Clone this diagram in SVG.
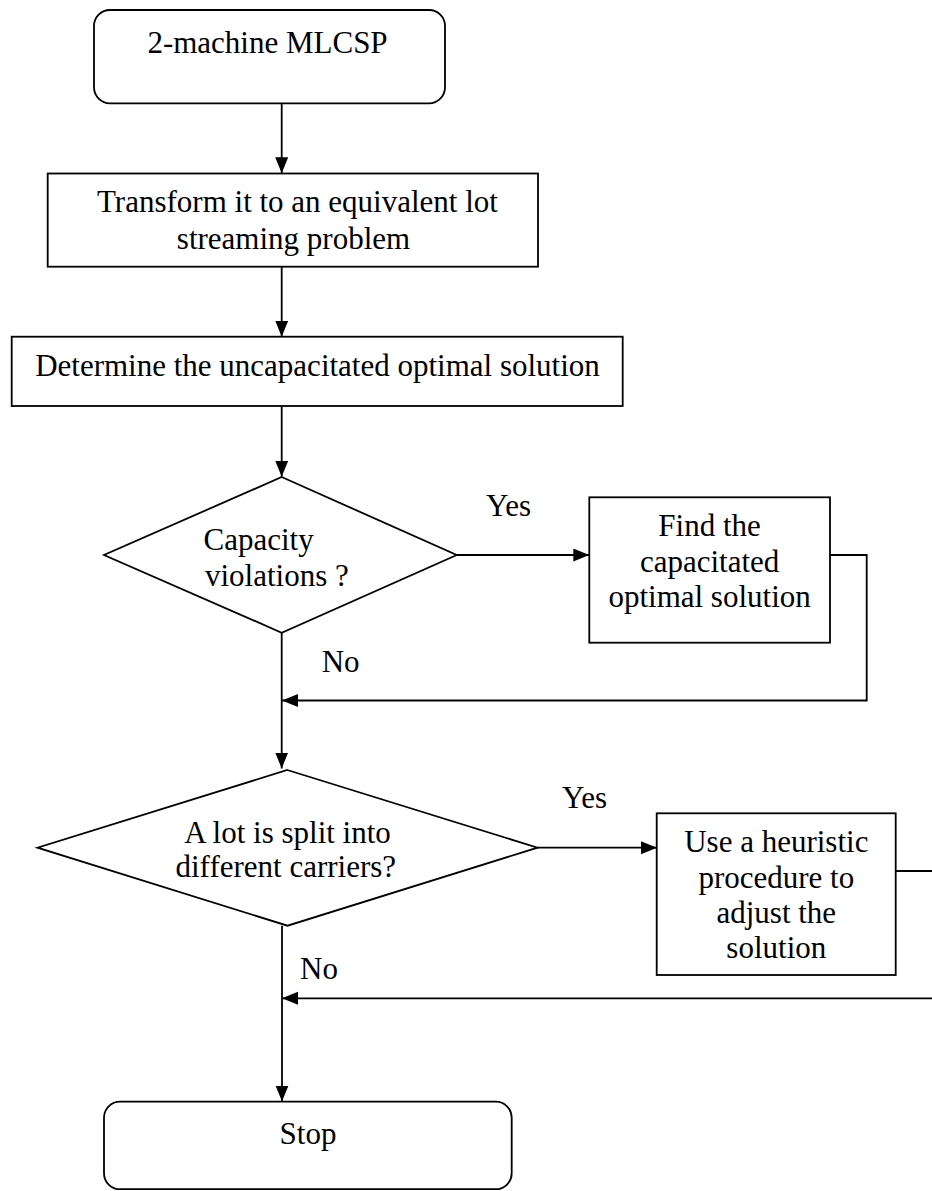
<svg xmlns="http://www.w3.org/2000/svg" width="932" height="1191" viewBox="0 0 932 1191">
  <style>
    .shape { fill: #ffffff; stroke: #000000; stroke-width: 1.8; }
    .conn { fill: none; stroke: #000000; stroke-width: 1.8; }
    text { font-family: "Liberation Serif", "Times New Roman", serif; font-size: 31px; fill: #000000; }
    .c { text-anchor: middle; }
  </style>
  <defs>
    <marker id="arrow" markerUnits="userSpaceOnUse" markerWidth="17" markerHeight="14" refX="16" refY="6.5" orient="auto">
      <path d="M0,0 L16,6.5 L0,13 z" fill="#000000"/>
    </marker>
  </defs>

  <g id="connectors">
    <line class="conn" x1="281.7" y1="103.3" x2="281.7" y2="173.3" marker-end="url(#arrow)"/>
    <line class="conn" x1="281.7" y1="266.7" x2="281.7" y2="336.7" marker-end="url(#arrow)"/>
    <line class="conn" x1="281.7" y1="406" x2="281.7" y2="476.7" marker-end="url(#arrow)"/>
    <line class="conn" x1="456.7" y1="555" x2="589.3" y2="555" marker-end="url(#arrow)"/>
    <path class="conn" d="M830,555 L866.7,555 L866.7,700.5 L282,700.5" marker-end="url(#arrow)"/>
    <line class="conn" x1="281.7" y1="632.7" x2="281.7" y2="768.5" marker-end="url(#arrow)"/>
    <line class="conn" x1="537.5" y1="847.7" x2="657" y2="847.7" marker-end="url(#arrow)"/>
    <path class="conn" d="M889,871 L945,871 L945,998.3 L282,998.3" marker-end="url(#arrow)"/>
    <line class="conn" x1="282" y1="925.7" x2="282" y2="1101.5" marker-end="url(#arrow)"/>
  </g>

  <g id="start">
    <rect class="shape" x="94" y="10" width="351" height="93.3" rx="16" ry="16"/>
    <text class="c" x="267.5" y="52.5">2-machine MLCSP</text>
  </g>

  <g id="transform">
    <rect class="shape" x="47.7" y="173.5" width="490.3" height="93.2"/>
    <text class="c" x="297.5" y="211.7">Transform it to an equivalent lot</text>
    <text class="c" x="293.5" y="249">streaming problem</text>
  </g>

  <g id="uncapacitated">
    <rect class="shape" x="11.7" y="336.7" width="611" height="69.3"/>
    <text class="c" x="317.5" y="376">Determine the uncapacitated optimal solution</text>
  </g>

  <g id="capacity-check">
    <polygon class="shape" points="281.7,477 456.7,555 281.7,632.7 104,555"/>
    <text x="203.5" y="550">Capacity</text>
    <text x="205" y="586">violations ?</text>
  </g>

  <g id="capacitated">
    <rect class="shape" x="589.3" y="497.3" width="240.7" height="145.4"/>
    <text class="c" x="709.6" y="536">Find the</text>
    <text class="c" x="709.6" y="571.7">capacitated</text>
    <text class="c" x="709.6" y="607.3">optimal solution</text>
  </g>

  <g id="split-check">
    <polygon class="shape" points="287.3,770 537.5,847.7 287.5,925.7 37.5,847.7"/>
    <text class="c" x="287.5" y="842.7">A lot is split into</text>
    <text class="c" x="285.8" y="876.7">different carriers?</text>
  </g>

  <g id="heuristic">
    <rect class="shape" x="656.7" y="813.3" width="239" height="161.7"/>
    <text class="c" x="776.3" y="852.3">Use a heuristic</text>
    <text class="c" x="776.3" y="887.7">procedure to</text>
    <text class="c" x="776.3" y="923.3">adjust the</text>
    <text class="c" x="776.3" y="958.3">solution</text>
  </g>

  <g id="stop">
    <rect class="shape" x="104" y="1101.7" width="407.7" height="87.5" rx="16" ry="16"/>
    <text class="c" x="308" y="1144">Stop</text>
  </g>

  <g id="labels">
    <text x="486" y="516">Yes</text>
    <text x="321.7" y="671.7">No</text>
    <text x="562" y="808">Yes</text>
    <text x="300" y="979.3">No</text>
  </g>
</svg>
